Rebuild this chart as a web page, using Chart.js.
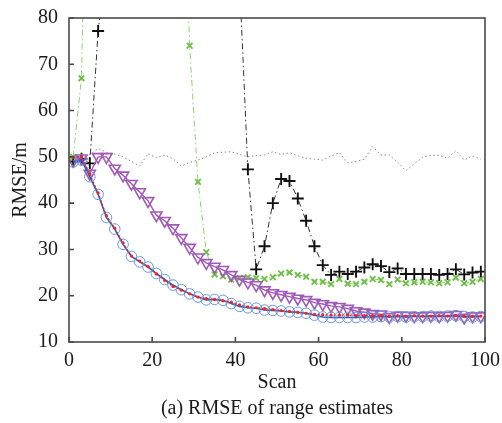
<!DOCTYPE html>
<html lang="en">
<head>
<meta charset="UTF-8">
<title>RMSE of range estimates</title>
<script src="https://cdn.jsdelivr.net/npm/chart.js"></script>
<style>
  html, body { margin: 0; padding: 0; background: #fff; }
</style>
</head>
<body>
<canvas id="rmseChart" width="502" height="423"></canvas>
<script>
// scan index of every sample (one sample every second scan)
const scans = [1, 3, 5, 7, 9, 11, 13, 15, 17, 19, 21, 23, 25, 27, 29, 31, 33, 35, 37, 39,
               41, 43, 45, 47, 49, 51, 53, 55, 57, 59, 61, 63, 65, 67, 69, 71, 73, 75, 77, 79,
               81, 83, 85, 87, 89, 91, 93, 95, 97, 99];

// RMSE per scan, metres
const rmseDotted = [50.2, 50.1, 50.5, 51.8, 51.0, 50.6, 50.0, 49.0, 48.0, 50.7,
                    49.8, 50.4, 49.6, 48.0, 48.8, 49.3, 50.0, 50.9, 51.0, 51.1,
                    50.5, 50.0, 50.3, 50.4, 51.1, 50.5, 50.9, 50.2, 49.7, 49.5,
                    49.3, 50.2, 50.9, 48.7, 49.0, 49.5, 52.2, 50.4, 50.4, 48.8,
                    47.0, 48.5, 49.9, 50.4, 50.3, 49.7, 51.3, 49.3, 50.2, 49.5];
const rmseCross = [49.0, 49.6, 48.6, 77.2, 92, 110, 125, 140, 150, 160,
                   165, 170, 168, 165, 160, 150, 140, 125, 110, 98,
                   88, 47.3, 25.7, 30.7, 40.0, 45.2, 44.8, 41.0, 36.2, 30.7,
                   26.6, 24.5, 25.2, 24.7, 25.2, 26.1, 26.8, 26.4, 25.1, 25.9,
                   24.7, 24.7, 24.7, 24.7, 24.5, 24.7, 25.7, 24.6, 25.0, 25.2];
const rmseX = [50.0, 67.0, 155, 170, 185, 195, 200, 198, 190, 180,
               170, 160, 145, 128, 74.0, 44.6, 29.4, 24.6, 24.2, 23.5,
               23.8, 24.0, 23.8, 23.6, 24.0, 24.8, 25.0, 24.5, 24.1, 23.0,
               23.0, 22.5, 23.6, 22.6, 22.5, 23.0, 23.6, 23.4, 22.5, 23.5,
               22.7, 22.9, 23.0, 22.9, 22.7, 22.9, 23.9, 22.7, 23.0, 23.6];
const rmseTriangle = [49.2, 49.7, 46.4, 50.0, 50.0, 47.5, 46.0, 44.2, 42.4, 40.5,
                      37.4, 36.2, 34.6, 32.5, 30.4, 28.3, 27.1, 26.3, 25.6, 24.5,
                      23.5, 22.9, 22.3, 21.2, 20.6, 20.2, 19.8, 19.4, 19.1, 18.5,
                      18.2, 17.8, 17.6, 17.2, 16.7, 16.4, 16.1, 16.0, 15.4, 15.7,
                      15.7, 15.6, 15.6, 15.7, 15.6, 15.7, 15.9, 15.3, 15.6, 15.6];
const rmseCircle = [48.9, 49.3, 45.7, 41.9, 36.9, 34.4, 31.1, 28.5, 27.3, 26.2,
                    24.8, 23.5, 22.3, 21.3, 20.4, 19.7, 19.1, 19.2, 19.0, 18.3,
                    17.7, 17.4, 17.3, 16.9, 16.8, 16.7, 16.5, 16.4, 16.2, 15.8,
                    15.4, 15.3, 15.3, 15.3, 15.3, 15.4, 15.4, 15.5, 15.4, 15.5,
                    15.4, 15.5, 15.5, 15.6, 15.5, 15.6, 15.7, 15.5, 15.4, 15.5];
const rmseDot = [49.9, 50.1, 46.3, 42.2, 37.3, 34.6, 31.4, 28.6, 27.5, 26.3,
                 24.7, 23.3, 22.0, 21.2, 20.4, 19.7, 19.4, 19.2, 18.9, 18.6,
                 18.0, 17.6, 17.4, 17.2, 17.0, 16.8, 16.6, 16.4, 16.2, 16.0,
                 15.9, 15.8, 15.8, 15.8, 15.7, 15.7, 15.7, 15.7, 15.6, 15.7,
                 15.6, 15.7, 15.6, 15.6, 15.7, 15.6, 15.7, 15.6, 15.6, 15.6];

const xTicks = [0, 20, 40, 60, 80, 100];
const yTicks = [10, 20, 30, 40, 50, 60, 70, 80];

const serif = "'Liberation Serif', 'Times New Roman', serif";
const pts = vals => scans.map((s, i) => ({ x: s, y: vals[i] }));

// box round the plot plus short inward tick marks on the left and bottom
const frameTicks = {
  id: 'frameTicks',
  afterDatasetsDraw(chart) {
    const { ctx, chartArea: a, scales: { x, y } } = chart;
    ctx.save();
    ctx.strokeStyle = '#4a4a4a';
    ctx.lineWidth = 1.6;
    ctx.strokeRect(a.left, a.top, a.right - a.left, a.bottom - a.top);
    ctx.beginPath();
    xTicks.forEach(v => {
      const px = x.getPixelForValue(v);
      ctx.moveTo(px, a.bottom);
      ctx.lineTo(px, a.bottom - 5);
    });
    yTicks.forEach(v => {
      const py = y.getPixelForValue(v);
      ctx.moveTo(a.left, py);
      ctx.lineTo(a.left + 5, py);
    });
    ctx.stroke();
    ctx.restore();
  }
};

new Chart(document.getElementById('rmseChart'), {
  type: 'line',
  data: {
    datasets: [
      {
        data: pts(rmseDot),
        borderColor: '#e8262b',
        borderWidth: 1.2,
        borderDash: [2, 2],
        pointStyle: 'circle',
        pointRadius: 1.6,
        pointBackgroundColor: '#e8262b',
        pointBorderWidth: 0
      },
      {
        data: pts(rmseCircle),
        borderColor: '#2a5cb4',
        borderWidth: 1.6,
        pointStyle: 'circle',
        pointRadius: 5.3,
        pointBorderColor: '#6a98dc',
        pointBackgroundColor: 'rgba(0,0,0,0)',
        pointBorderWidth: 1
      },
      {
        data: pts(rmseTriangle),
        borderColor: '#a159b8',
        borderWidth: 1.4,
        pointStyle: 'triangle',
        pointRotation: 180,
        pointRadius: 6.5,
        pointBorderColor: '#a159b8',
        pointBackgroundColor: 'rgba(0,0,0,0)',
        pointBorderWidth: 1.6
      },
      {
        data: pts(rmseX),
        borderColor: '#8fd06a',
        borderWidth: 1,
        borderDash: [6, 3, 1.5, 3],
        pointStyle: 'crossRot',
        pointRadius: 4,
        pointBorderColor: '#6cbf45',
        pointBorderWidth: 1.8
      },
      {
        data: pts(rmseCross),
        borderColor: '#333333',
        borderWidth: 1,
        borderDash: [6, 3, 1.5, 3],
        pointStyle: 'cross',
        pointRadius: 6,
        pointBorderColor: '#111111',
        pointBorderWidth: 1.9
      },
      {
        data: pts(rmseDotted),
        borderColor: '#8a8a8a',
        borderWidth: 1,
        borderDash: [1.5, 2.5],
        pointRadius: 0
      }
    ]
  },
  options: {
    responsive: false,
    animation: false,
    devicePixelRatio: 1,
    layout: { padding: { top: 18, right: 17, bottom: 0, left: 0 } },
    plugins: { legend: { display: false }, tooltip: { enabled: false } },
    elements: { line: { tension: 0 } },
    scales: {
      x: {
        type: 'linear',
        min: 0,
        max: 100,
        afterFit: s => { s.height = 81; s.paddingLeft = 0; s.paddingRight = 0; },
        afterBuildTicks: s => { s.ticks = xTicks.map(v => ({ value: v })); },
        grid: { display: false, drawTicks: false },
        border: { display: false },
        ticks: { padding: 7, maxRotation: 0, color: '#1a1a1a', font: { family: serif, size: 20 } },
        title: {
          display: true,
          text: ['Scan', '(a) RMSE of range estimates'],
          color: '#1a1a1a',
          padding: { top: 0, bottom: 1 },
          font: { family: serif, size: 20, lineHeight: 1.3 }
        }
      },
      y: {
        min: 10,
        max: 80,
        afterFit: s => { s.width = 69; s.paddingTop = 0; s.paddingBottom = 0; },
        afterBuildTicks: s => { s.ticks = yTicks.map(v => ({ value: v })); },
        grid: { display: false, drawTicks: false },
        border: { display: false },
        ticks: { padding: 11, color: '#1a1a1a', font: { family: serif, size: 20 } },
        title: {
          display: true,
          text: 'RMSE/m',
          color: '#1a1a1a',
          padding: { top: 9, bottom: 0 },
          font: { family: serif, size: 20 }
        }
      }
    }
  },
  plugins: [frameTicks]
});
</script>
</body>
</html>
